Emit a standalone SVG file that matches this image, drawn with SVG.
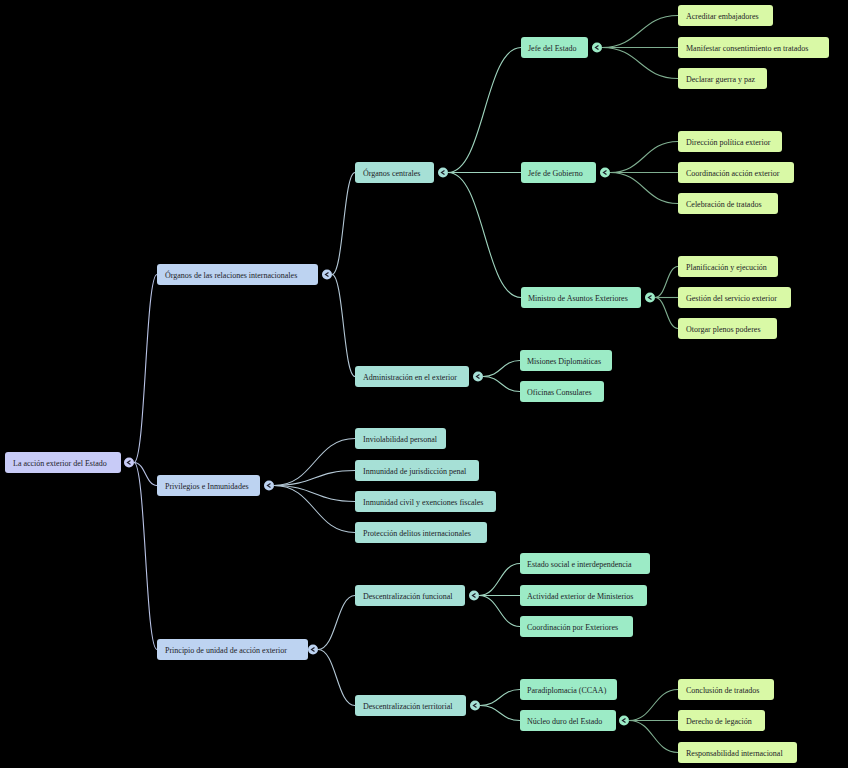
<svg xmlns="http://www.w3.org/2000/svg" width="848" height="768" viewBox="0 0 848 768">
<style>
text{font-family:"Liberation Serif","Times New Roman",serif;font-size:8px;fill:#1c1c28}
.n rect{rx:3;ry:3}
.r0 rect,.r0 circle{fill:#c8cbf7}
.r1 rect,.r1 circle{fill:#bdd3f1}
.r2 rect,.r2 circle{fill:#a6e0d6}
.r3 rect,.r3 circle{fill:#9cebc6}
.r4 rect{fill:#d9f9a6}
.t{stroke:#1c1c28;stroke-width:1.2;fill:none}
#edges path{fill:none;stroke-width:1.1}
.e1{stroke:#b9c3e6}
.e2{stroke:#b4c8d6}
.e3{stroke:#9ed3bd}
.e4{stroke:#7fae90}
</style>
<rect width="848" height="768" fill="#000"/>
<g id="edges">
<path class="e1" d="M134 462.5C145.5 462.5 145.5 274.5 157 274.5"/>
<path class="e1" d="M134 462.5C145.5 462.5 145.5 485.5 157 485.5"/>
<path class="e1" d="M134 462.5C145.5 462.5 145.5 649.5 157 649.5"/>
<path class="e2" d="M332 274.5C343.5 274.5 343.5 172.5 355 172.5"/>
<path class="e2" d="M332 274.5C343.5 274.5 343.5 376.5 355 376.5"/>
<path class="e2" d="M274 485.5C314.5 485.5 314.5 438.5 355 438.5"/>
<path class="e2" d="M274 485.5C314.5 485.5 314.5 470.5 355 470.5"/>
<path class="e2" d="M274 485.5C314.5 485.5 314.5 501.5 355 501.5"/>
<path class="e2" d="M274 485.5C314.5 485.5 314.5 532.5 355 532.5"/>
<path class="e2" d="M318 649.5C336.5 649.5 336.5 595.5 355 595.5"/>
<path class="e2" d="M318 649.5C336.5 649.5 336.5 705.5 355 705.5"/>
<path class="e3" d="M448 172.5C484.5 172.5 484.5 47.5 521 47.5"/>
<path class="e3" d="M448 172.5C484.5 172.5 484.5 172.5 521 172.5"/>
<path class="e3" d="M448 172.5C484.5 172.5 484.5 297.5 521 297.5"/>
<path class="e3" d="M483 376.5C501.5 376.5 501.5 360.5 520 360.5"/>
<path class="e3" d="M483 376.5C501.5 376.5 501.5 391.5 520 391.5"/>
<path class="e3" d="M479 595.5C499.5 595.5 499.5 563.5 520 563.5"/>
<path class="e3" d="M479 595.5C499.5 595.5 499.5 595.5 520 595.5"/>
<path class="e3" d="M479 595.5C499.5 595.5 499.5 626.5 520 626.5"/>
<path class="e3" d="M480 705.5C500 705.5 500 689.5 520 689.5"/>
<path class="e3" d="M480 705.5C500 705.5 500 720.5 520 720.5"/>
<path class="e4" d="M602 47.5C640 47.5 640 15.5 678 15.5"/>
<path class="e4" d="M602 47.5C640 47.5 640 47.5 678 47.5"/>
<path class="e4" d="M602 47.5C640 47.5 640 78.5 678 78.5"/>
<path class="e4" d="M610 172.5C644 172.5 644 141.5 678 141.5"/>
<path class="e4" d="M610 172.5C644 172.5 644 172.5 678 172.5"/>
<path class="e4" d="M610 172.5C644 172.5 644 203.5 678 203.5"/>
<path class="e4" d="M655 297.5C666.5 297.5 666.5 266.5 678 266.5"/>
<path class="e4" d="M655 297.5C666.5 297.5 666.5 297.5 678 297.5"/>
<path class="e4" d="M655 297.5C666.5 297.5 666.5 328.5 678 328.5"/>
<path class="e4" d="M629 720.5C653.5 720.5 653.5 689.5 678 689.5"/>
<path class="e4" d="M629 720.5C653.5 720.5 653.5 720.5 678 720.5"/>
<path class="e4" d="M629 720.5C653.5 720.5 653.5 752.5 678 752.5"/>
</g>

<g id="root" class="n r0"><rect x="5" y="452" width="116" height="21"/><text x="13" y="465.5">La acción exterior del Estado</text><circle cx="129" cy="462.5" r="5"/><path class="t" d="M130.5 460.5L127.5 462.5L130.5 464.5"/></g>

<g id="organos" class="n r1"><rect x="157" y="264" width="161" height="21"/><text x="165" y="277.5">Órganos de las relaciones internacionales</text><circle cx="327" cy="274.5" r="5"/><path class="t" d="M328.5 272.5L325.5 274.5L328.5 276.5"/></g>
<g id="privilegios" class="n r1"><rect x="157" y="475" width="103" height="21"/><text x="165" y="488.5">Privilegios e Inmunidades</text><circle cx="269" cy="485.5" r="5"/><path class="t" d="M270.5 483.5L267.5 485.5L270.5 487.5"/></g>
<g id="principio" class="n r1"><rect x="157" y="639" width="151" height="21"/><text x="165" y="652.5">Principio de unidad de acción exterior</text><circle cx="313" cy="649.5" r="5"/><path class="t" d="M314.5 647.5L311.5 649.5L314.5 651.5"/></g>

<g id="centrales" class="n r2"><rect x="355" y="162" width="79" height="21"/><text x="363" y="175.5">Órganos centrales</text><circle cx="443" cy="172.5" r="5"/><path class="t" d="M444.5 170.5L441.5 172.5L444.5 174.5"/></g>
<g id="admin" class="n r2"><rect x="355" y="366" width="114" height="21"/><text x="363" y="379.5">Administración en el exterior</text><circle cx="478" cy="376.5" r="5"/><path class="t" d="M479.5 374.5L476.5 376.5L479.5 378.5"/></g>
<g id="inviol" class="n r2"><rect x="355" y="428" width="91" height="21"/><text x="363" y="441.5">Inviolabilidad personal</text></g>
<g id="inmpenal" class="n r2"><rect x="355" y="460" width="124" height="21"/><text x="363" y="473.5">Inmunidad de jurisdicción penal</text></g>
<g id="inmcivil" class="n r2"><rect x="355" y="491" width="141" height="21"/><text x="363" y="504.5">Inmunidad civil y exenciones fiscales</text></g>
<g id="proteccion" class="n r2"><rect x="355" y="522" width="132" height="21"/><text x="363" y="535.5">Protección delitos internacionales</text></g>
<g id="descfunc" class="n r2"><rect x="355" y="585" width="110" height="21"/><text x="363" y="598.5">Descentralización funcional</text><circle cx="474" cy="595.5" r="5"/><path class="t" d="M475.5 593.5L472.5 595.5L475.5 597.5"/></g>
<g id="descterr" class="n r2"><rect x="355" y="695" width="111" height="21"/><text x="363" y="708.5">Descentralización territorial</text><circle cx="475" cy="705.5" r="5"/><path class="t" d="M476.5 703.5L473.5 705.5L476.5 707.5"/></g>

<g id="jefeestado" class="n r3"><rect x="521" y="37" width="67" height="21"/><text x="528" y="50.5">Jefe del Estado</text><circle cx="597" cy="47.5" r="5"/><path class="t" d="M598.5 45.5L595.5 47.5L598.5 49.5"/></g>
<g id="jefegob" class="n r3"><rect x="521" y="162" width="75" height="21"/><text x="528" y="175.5">Jefe de Gobierno</text><circle cx="605" cy="172.5" r="5"/><path class="t" d="M606.5 170.5L603.5 172.5L606.5 174.5"/></g>
<g id="ministro" class="n r3"><rect x="521" y="287" width="120" height="21"/><text x="528" y="300.5">Ministro de Asuntos Exteriores</text><circle cx="650" cy="297.5" r="5"/><path class="t" d="M651.5 295.5L648.5 297.5L651.5 299.5"/></g>
<g id="misiones" class="n r3"><rect x="520" y="350" width="92" height="21"/><text x="527" y="363.5">Misiones Diplomáticas</text></g>
<g id="oficinas" class="n r3"><rect x="520" y="381" width="84" height="21"/><text x="527" y="394.5">Oficinas Consulares</text></g>
<g id="estadosocial" class="n r3"><rect x="520" y="553" width="130" height="21"/><text x="527" y="566.5">Estado social e interdependencia</text></g>
<g id="actividad" class="n r3"><rect x="520" y="585" width="127" height="21"/><text x="527" y="598.5">Actividad exterior de Ministerios</text></g>
<g id="coordext" class="n r3"><rect x="520" y="616" width="113" height="21"/><text x="527" y="629.5">Coordinación por Exteriores</text></g>
<g id="paradip" class="n r3"><rect x="520" y="679" width="97" height="21"/><text x="527" y="692.5">Paradiplomacia (CCAA)</text></g>
<g id="nucleo" class="n r3"><rect x="520" y="710" width="96" height="21"/><text x="527" y="723.5">Núcleo duro del Estado</text><circle cx="624" cy="720.5" r="5"/><path class="t" d="M625.5 718.5L622.5 720.5L625.5 722.5"/></g>

<g id="acreditar" class="n r4"><rect x="678" y="5" width="95" height="21"/><text x="686" y="18.5">Acreditar embajadores</text></g>
<g id="manifestar" class="n r4"><rect x="678" y="37" width="151" height="21"/><text x="686" y="50.5">Manifestar consentimiento en tratados</text></g>
<g id="declarar" class="n r4"><rect x="678" y="68" width="89" height="21"/><text x="686" y="81.5">Declarar guerra y paz</text></g>
<g id="direccion" class="n r4"><rect x="678" y="131" width="104" height="21"/><text x="686" y="144.5">Dirección política exterior</text></g>
<g id="coordaccion" class="n r4"><rect x="678" y="162" width="116" height="21"/><text x="686" y="175.5">Coordinación acción exterior</text></g>
<g id="celebracion" class="n r4"><rect x="678" y="193" width="100" height="21"/><text x="686" y="206.5">Celebración de tratados</text></g>
<g id="planificacion" class="n r4"><rect x="678" y="256" width="100" height="21"/><text x="686" y="269.5">Planificación y ejecución</text></g>
<g id="gestion" class="n r4"><rect x="678" y="287" width="113" height="21"/><text x="686" y="300.5">Gestión del servicio exterior</text></g>
<g id="otorgar" class="n r4"><rect x="678" y="318" width="99" height="21"/><text x="686" y="331.5">Otorgar plenos poderes</text></g>
<g id="conclusion" class="n r4"><rect x="678" y="679" width="96" height="21"/><text x="686" y="692.5">Conclusión de tratados</text></g>
<g id="legacion" class="n r4"><rect x="678" y="710" width="87" height="21"/><text x="686" y="723.5">Derecho de legación</text></g>
<g id="responsabilidad" class="n r4"><rect x="678" y="742" width="119" height="21"/><text x="686" y="755.5">Responsabilidad internacional</text></g>
</svg>
